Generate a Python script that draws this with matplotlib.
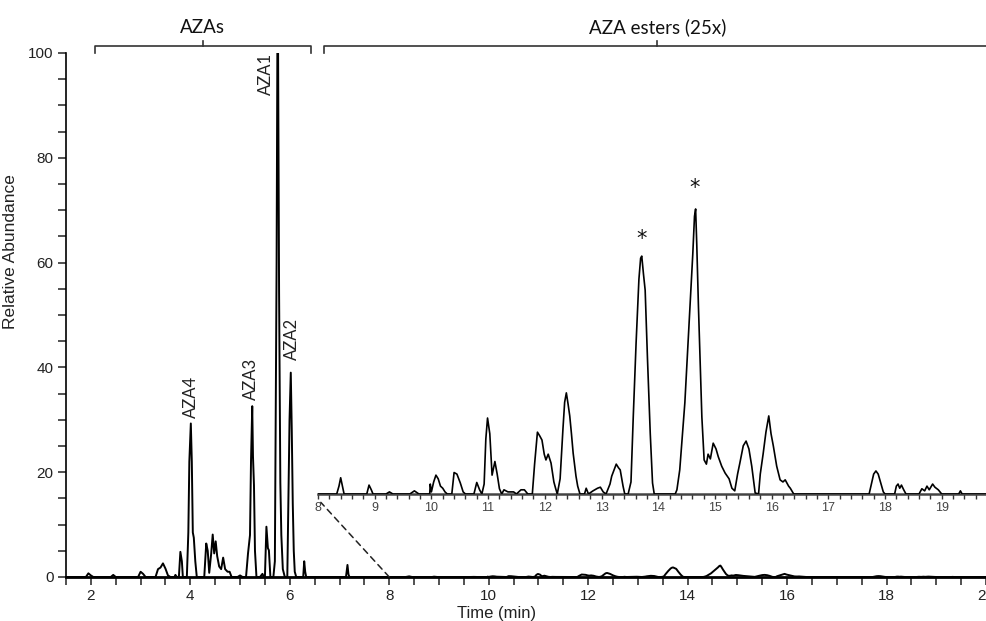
import numpy as np
import matplotlib.pyplot as plt
from matplotlib.patches import ConnectionPatch
from matplotlib.ticker import MultipleLocator

# AZA region of the chromatogram (relative abundance, main scale)
aza_time = [
    1.5, 1.9, 1.95, 2.0, 2.05, 2.4, 2.45, 2.5, 2.95, 3.0, 3.05, 3.1,
    3.3, 3.35, 3.4, 3.45, 3.5, 3.55, 3.6, 3.68, 3.7, 3.73,
    3.77, 3.8, 3.83, 3.85,
    3.93, 3.96, 3.98, 4.01, 4.03, 4.05, 4.07, 4.1, 4.13,
    4.28, 4.32, 4.35, 4.38, 4.42, 4.45, 4.48, 4.51, 4.54, 4.58, 4.62,
    4.66, 4.7, 4.75, 4.79, 4.83, 4.95, 5.0, 5.05,
    5.12, 5.16, 5.2, 5.22, 5.245, 5.26, 5.28, 5.30, 5.33,
    5.4, 5.45, 5.48, 5.5, 5.53, 5.56, 5.58, 5.61,
    5.67, 5.7, 5.735, 5.75, 5.765, 5.785, 5.81, 5.83, 5.86, 5.9,
    5.95, 5.975, 5.995, 6.02, 6.04, 6.06, 6.08, 6.1, 6.13,
    6.27, 6.29, 6.31, 6.33, 7.13, 7.16, 7.18, 7.2, 8.0,
]
aza_abund = [
    0, 0, 0.7, 0.3, 0, 0, 0.4, 0, 0, 1.0, 0.6, 0,
    0, 1.5, 1.8, 2.6, 1.6, 0.3, 0, 0, 0.4, 0,
    0, 4.8, 3.0, 0,
    0, 8.5, 22, 29.3, 22, 8.5, 7.5, 3, 0,
    0, 6.4, 5.0, 0.8, 4.5, 8.1, 4.5, 6.8, 4.0, 2.0, 1.5,
    3.7, 1.5, 1.0, 1.0, 0, 0, 0.3, 0,
    0, 4.5, 8, 22, 32.6, 23, 17.5, 5, 0,
    0, 0.6, 0, 0, 9.6, 5.5, 5.1, 0,
    0, 3, 60, 100, 100, 54, 18, 8, 1.5, 0,
    0, 16, 30, 39, 28, 14, 5, 1, 0,
    0, 3, 1, 0, 0, 2.3, 0.5, 0, 0,
]

# AZA ester region, read from the 25x zoom (relative abundance x 25)
ester_time = [
    8.0, 8.33, 8.37, 8.40, 8.43, 8.46, 8.86, 8.9, 8.94, 8.97,
    9.2, 9.26, 9.32, 9.62, 9.7, 9.78, 9.97, 9.98, 10.0,
    10.04, 10.08, 10.12, 10.16, 10.2, 10.24, 10.28,
    10.36, 10.40, 10.45, 10.51, 10.56, 10.6, 10.75, 10.8, 10.85, 10.89,
    10.93, 10.96, 10.99, 11.03, 11.07, 11.12, 11.16, 11.2, 11.24,
    11.28, 11.35, 11.45, 11.5, 11.58, 11.64, 11.7,
    11.78, 11.82, 11.87, 11.91, 11.95, 11.99, 12.02, 12.06, 12.11, 12.16, 12.19, 12.22,
    12.27, 12.32, 12.35, 12.38, 12.41, 12.44, 12.47, 12.5, 12.55, 12.58, 12.62,
    12.7, 12.73, 12.77, 12.85, 12.93, 12.98, 13.03, 13.08,
    13.15, 13.18, 13.26, 13.3, 13.33, 13.38, 13.41,
    13.47, 13.52, 13.56, 13.61, 13.66, 13.69, 13.71, 13.74, 13.77, 13.81, 13.86, 13.9, 13.93,
    14.3, 14.33, 14.38, 14.47, 14.56, 14.61, 14.64, 14.66, 14.68, 14.71, 14.77, 14.81,
    14.85, 14.88, 14.92, 14.97, 15.02, 15.06, 15.12, 15.18, 15.25, 15.3, 15.35,
    15.4, 15.44, 15.5, 15.55, 15.6, 15.65, 15.71, 15.77,
    15.8, 15.85, 15.9, 15.95, 15.99, 16.03, 16.09, 16.15, 16.2, 16.24, 16.3, 16.33, 16.39,
    17.72, 17.76, 17.8, 17.84, 17.88, 17.93, 17.97, 18.0,
    18.17, 18.2, 18.23, 18.26, 18.29, 18.33, 18.37,
    18.6, 18.65, 18.7, 18.74, 18.78, 18.84, 18.88, 18.94, 19.0,
    19.3, 19.33, 19.36, 20.0,
]
ester_abund = [
    0, 0, 1.5, 3.1, 1.5, 0, 0, 1.7, 0.8, 0,
    0, 0.4, 0, 0, 0.6, 0, 0, 1.9, 0.4,
    2.3, 3.6, 2.9, 1.5, 1.1, 0.4, 0,
    0, 4.1, 3.8, 2.1, 0.4, 0, 0, 2.2, 0.8, 0,
    1.9, 10.5, 14.5, 11.5, 3.6, 6.2, 3.8, 1.0, 0,
    0.8, 0.4, 0.4, 0, 0.8, 0.8, 0,
    0, 5.7, 11.8, 11.1, 10.3, 7.6, 6.5, 7.6, 5.9, 2.3, 1.1, 0,
    2.9, 12.4, 17.5, 19.3, 17.2, 14.9, 11.5, 7.8, 3.4, 1.5, 0,
    0, 1.1, 0, 0.6, 1.1, 1.3, 0.4, 0,
    1.9, 3.4, 5.7, 5.0, 4.6, 1.5, 0,
    0, 2.3, 14.7, 28.8, 41.0, 45.0, 45.4, 42.0, 38.9, 26.1, 11.5, 2.1, 0,
    0, 0.8, 4.6, 17.4, 35.7, 45.8, 53.0, 54.4, 47.7, 35.7, 14.7, 6.5,
    5.7, 7.6, 6.7, 9.7, 8.6, 7.1, 5.3, 4.0, 2.9, 1.1, 0.6,
    3.8, 5.9, 9.2, 10.1, 8.6, 5.3, 0.2, 0,
    3.8, 7.6, 11.8, 14.9, 11.5, 9.2, 5.3, 2.7, 2.3, 2.7, 1.5, 1.1, 0,
    0, 1.9, 3.8, 4.4, 3.8, 1.9, 0.4, 0,
    0, 1.5, 1.9, 1.1, 1.7, 0.8, 0,
    0, 1.0, 0.6, 1.5, 0.8, 1.9, 1.3, 0.8, 0,
    0, 0.6, 0, 0,
]
zoom_factor = 25

peak_names = ["AZA4", "AZA3", "AZA1", "AZA2"]
peak_label_x = [4.01, 5.22, 5.52, 6.05]
peak_label_y = [30.3, 33.8, 92.0, 41.4]
star_x = [13.70, 14.65]
star_y = [48.6, 58.4]

W, H = 987, 621
fig = plt.figure(figsize=(W / 100, H / 100), dpi=100)

label_font = "Liberation Sans"
note_font = "Lato"

# main chromatogram
ax = fig.add_axes([66 / W, 44 / H, 920 / W, 524 / H])
main_t = np.array(aza_time + ester_time)
main_y = np.array(aza_abund + [v / zoom_factor for v in ester_abund])
ax.plot(main_t, main_y, color="black", lw=1.4, zorder=3)

ax.set_xlim(1.5, 20.0)
ax.set_ylim(0, 100)
for s in ["top", "right"]:
    ax.spines[s].set_visible(False)
ax.spines["bottom"].set_linewidth(2.0)
ax.spines["left"].set_linewidth(1.2)
ax.xaxis.set_major_locator(MultipleLocator(2))
ax.xaxis.set_minor_locator(MultipleLocator(0.5))
ax.yaxis.set_major_locator(MultipleLocator(20))
ax.yaxis.set_minor_locator(MultipleLocator(5))
ax.tick_params(which="both", direction="out", length=6, width=1.1, color="#222222")
ax.tick_params(labelsize=11, labelcolor="#222222", pad=3)
for lab in ax.get_xticklabels() + ax.get_yticklabels():
    lab.set_family(label_font)

ax.set_xlabel("Time (min)", family=label_font, fontsize=12, color="#222222")
ax.xaxis.set_label_coords((497 - 66) / 920, (577 - 606) / 524)
ax.set_ylabel("Relative Abundance", family=label_font, fontsize=12.5, color="#222222")
ax.yaxis.set_label_coords((18 - 66) / 920, (577 - 252) / 524)

# peak names
for name, x, y in zip(peak_names, peak_label_x, peak_label_y):
    ax.text(x, y, name, rotation=90, ha="center", va="bottom",
            family=note_font, fontsize=12, color="#222222")

# brackets on top
def bracket(x0, x1, xc, text):
    kw = dict(color="#333333", lw=1.2, clip_on=False)
    ax.plot([x0, x0, x1, x1], [100, 101.3, 101.3, 100], **kw)
    ax.plot([xc, xc], [101.3, 102.3], **kw)
    ax.text(xc, 103.3, text, ha="center", va="bottom", family=note_font,
            fontsize=13.5, color="#111111", clip_on=False)

bracket(2.08, 6.43, 4.25, "AZAs")
bracket(6.69, 20.5, 13.39, "AZA esters (25x)")

# zoomed ester inset
inset_top = 344 / 5.24
ax_in = fig.add_axes([318 / W, 127 / H, 669 / W, 344 / H])
ax_in.patch.set_alpha(0)
ax_in.plot(ester_time, ester_abund, color="black", lw=1.2, zorder=3)
ax_in.set_xlim(8, 8 + 669 / 56.7)
ax_in.set_ylim(0, inset_top)
for s in ["top", "right", "left"]:
    ax_in.spines[s].set_visible(False)
ax_in.spines["bottom"].set_linewidth(1.8)
ax_in.spines["bottom"].set_color("#444444")
ax_in.set_yticks([])
ax_in.xaxis.set_major_locator(MultipleLocator(1))
ax_in.xaxis.set_minor_locator(MultipleLocator(0.2))
ax_in.tick_params(which="both", direction="out", length=3.5, width=1, color="#333333")
ax_in.tick_params(labelsize=9, labelcolor="#444444", pad=2)
for lab in ax_in.get_xticklabels():
    lab.set_family(label_font)

for x, y in zip(star_x, star_y):
    ax_in.text(x, y, "*", ha="center", va="center", family="DejaVu Sans",
               fontsize=15, color="#111111")

# dashed link from the main axis to the inset
con = ConnectionPatch(xyA=(8.0, 0), coordsA=ax.transData,
                      xyB=(8.05, -1.6), coordsB=ax_in.transData,
                      color="#222222", lw=1.1, linestyle=(0, (4, 3)))
fig.add_artist(con)

fig.savefig("out.png", dpi=100)
